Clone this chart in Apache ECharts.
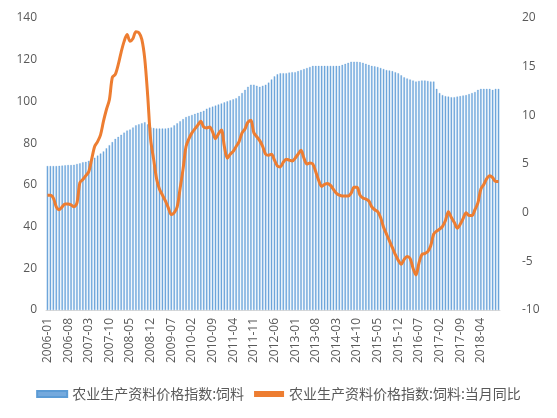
<!DOCTYPE html>
<html>
<head>
<meta charset="utf-8">
<script src="https://cdn.jsdelivr.net/npm/echarts@6/dist/echarts.min.js"></script>
<style>
    html, body { margin: 0; padding: 0; background: #fff; }
    #chart { width: 557px; height: 418px; }
</style>
</head>
<body>
<div id="chart"></div>
<script>
// 月度数据 2006-01 ~ 2018-10
var startYear = 2006;
var monthCount = 154;

// 农业生产资料价格指数:饲料 (左轴)
var feedIndex = [
    69.0, 69.0, 69.0, 69.0, 69.1, 69.2, 69.4, 69.5, 69.5, 69.6, 70.0, 70.3, // 2006
    70.8, 71.0, 71.5, 72.0, 73.0, 74.0, 75.0, 76.0, 77.5, 79.0, 80.5, 82.0, // 2007
    83.0, 84.0, 85.0, 86.0, 86.5, 87.5, 88.5, 89.0, 89.5, 90.0, 89.0, 87.5, // 2008
    87.2, 87.0, 87.0, 87.0, 87.0, 87.2, 87.5, 88.5, 89.5, 90.5, 91.5, 92.5, // 2009
    93.0, 93.5, 94.0, 94.5, 95.0, 95.5, 96.5, 97.0, 97.5, 98.0, 98.5, 99.0, // 2010
    99.5, 100.0, 100.5, 101.0, 101.5, 102.5, 104.0, 105.5, 107.0, 108.0, 108.0, 107.5, // 2011
    107.0, 107.5, 108.0, 109.0, 110.5, 112.0, 113.0, 113.5, 113.5, 113.5, 113.8, 114.0, // 2012
    114.0, 114.5, 115.0, 115.5, 116.0, 116.5, 117.0, 117.0, 117.0, 117.0, 117.0, 117.0, // 2013
    117.0, 117.0, 117.0, 117.0, 117.5, 118.0, 118.5, 119.0, 119.0, 119.0, 118.8, 118.5, // 2014
    118.0, 117.5, 117.0, 116.8, 116.5, 116.0, 115.5, 115.0, 114.8, 114.5, 114.0, 113.5, // 2015
    112.5, 111.5, 111.0, 110.5, 110.0, 109.5, 109.8, 110.0, 110.0, 109.8, 109.5, 109.5, // 2016
    106.0, 104.0, 103.0, 102.5, 102.3, 102.0, 102.0, 102.3, 102.5, 102.8, 103.0, 103.5, // 2017
    104.0, 104.5, 105.5, 106.0, 106.0, 106.0, 106.0, 105.5, 106.0, 106.0              // 2018
];

// 农业生产资料价格指数:饲料:当月同比 (右轴)
var feedYoy = [
    1.8, 1.8, 1.5, 0.6, 0.3, 0.6, 0.9, 0.9, 0.8, 0.6, 1.0, 3.1,
    3.4, 3.8, 4.2, 5.5, 6.8, 7.3, 8.0, 9.4, 10.6, 11.6, 13.9, 14.2,
    15.2, 16.5, 17.6, 18.3, 17.6, 17.9, 18.6, 18.5, 17.8, 15.8, 12.0, 7.5,
    5.5, 3.5, 2.4, 1.8, 1.2, 0.5, -0.2, 0.0, 0.6, 2.5, 4.5, 6.8,
    7.6, 8.2, 8.6, 9.0, 9.4, 8.8, 8.7, 8.8, 8.3, 7.6, 8.1, 8.5,
    6.8, 5.6, 6.0, 6.3, 6.8, 7.3, 8.2, 8.6, 9.3, 9.5, 8.2, 7.8,
    7.4, 6.8, 6.0, 5.9, 6.0, 5.4, 4.8, 4.7, 5.2, 5.5, 5.4, 5.3,
    5.6, 6.0, 6.4, 5.6, 5.0, 5.1, 5.0, 4.2, 3.3, 2.7, 2.9, 3.0,
    2.8, 2.4, 2.0, 1.8, 1.7, 1.7, 1.7, 2.0, 2.6, 2.6, 1.8, 1.5,
    1.4, 1.2, 0.6, 0.3, 0.1, -0.5, -1.5, -2.2, -2.9, -3.6, -4.3, -4.9,
    -5.3, -4.8, -4.5, -4.7, -5.7, -6.4, -5.2, -4.3, -4.2, -4.0, -3.4, -2.2,
    -1.9, -1.7, -1.4, -0.8, 0.1, -0.5, -1.0, -1.6, -1.2, -0.6, 0.0, -0.3,
    -0.3, 0.3, 1.0, 2.4, 2.9, 3.5, 3.8, 3.6, 3.2, 3.2
];

var seriesNames = ['农业生产资料价格指数:饲料', '农业生产资料价格指数:饲料:当月同比'];

var months = [];
for (var i = 0; i < monthCount; i++) {
    var y = startYear + Math.floor(i / 12);
    var m = i % 12 + 1;
    months.push(y + '-' + (m < 10 ? '0' + m : m));
}

var labelColor = '#595959';
var myChart = echarts.init(document.getElementById('chart'));
var option = {
    animation: false,
    textStyle: { fontFamily: 'Open Sans, "Noto Sans CJK SC", sans-serif' },
    grid: { left: 46, right: 57, top: 18, bottom: 108 },
    legend: {
        bottom: 12,
        left: 'center',
        itemGap: 10,
        itemWidth: 30,
        itemHeight: 6,
        textStyle: { color: labelColor, fontSize: 14, fontFamily: '"Noto Sans CJK SC", sans-serif' },
        data: [
            { name: seriesNames[0], icon: 'rect' },
            { name: seriesNames[1], icon: 'rect', itemStyle: { color: '#ED7D31' } }
        ]
    },
    xAxis: {
        type: 'category',
        data: months,
        axisLine: { lineStyle: { color: '#d9d9d9' } },
        axisTick: { interval: 6, lineStyle: { color: '#d9d9d9' } },
        axisLabel: { interval: 6, rotate: 90, color: labelColor, fontSize: 12, margin: 8 }
    },
    yAxis: [{
        type: 'value',
        min: 0,
        max: 140,
        interval: 20,
        splitLine: { show: false },
        axisLine: { show: false },
        axisTick: { show: false },
        axisLabel: { color: labelColor, fontSize: 12, margin: 9 }
    }, {
        type: 'value',
        min: -10,
        max: 20,
        interval: 5,
        splitLine: { show: false },
        axisLine: { show: false },
        axisTick: { show: false },
        axisLabel: { color: labelColor, fontSize: 12, margin: 22 }
    }],
    series: [{
        name: seriesNames[0],
        type: 'bar',
        yAxisIndex: 0,
        data: feedIndex,
        barCategoryGap: '50%',
        itemStyle: { color: '#74A9DD', borderColor: '#5B9BD5', borderWidth: 0.3 }
    }, {
        name: seriesNames[1],
        type: 'line',
        yAxisIndex: 1,
        data: feedYoy,
        symbol: 'none',
        smooth: 0.3,
        lineStyle: { color: '#ED7D31', width: 3 },
        itemStyle: { color: '#ED7D31' }
    }]
};
myChart.setOption(option);
</script>
</body>
</html>
